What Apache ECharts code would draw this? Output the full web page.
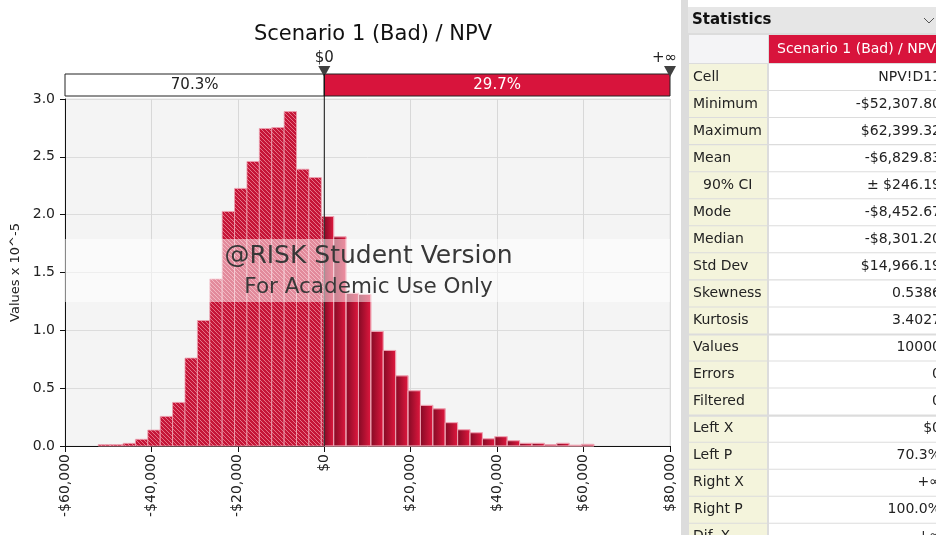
<!DOCTYPE html>
<html lang="en">
<head>
<meta charset="UTF-8">
<title>Scenario 1 (Bad) / NPV</title>
<script src="https://cdn.jsdelivr.net/npm/echarts@6/dist/echarts.min.js"></script>
<style>
  html, body { margin: 0; padding: 0; background: #fff; }
  #main { width: 936px; height: 535px; }
</style>
</head>
<body>
<div id="main"></div>
<script>
// simulation range, histogram has 40 equal bins between min and max
var binMin = -52307.80;
var binMax = 62399.32;
// bar heights (Values x 10^-5)
var density = [
  0.012, 0.012, 0.023, 0.058, 0.138, 0.256, 0.377, 0.760, 1.085, 1.444,
  2.028, 2.227, 2.460, 2.745, 2.753, 2.891, 2.393, 2.321, 1.984, 1.809,
  1.320, 1.310, 0.990, 0.826, 0.607, 0.478, 0.351, 0.322, 0.202, 0.141,
  0.115, 0.063, 0.081, 0.046, 0.023, 0.023, 0.012, 0.023, 0.006, 0.014
];
var xTicks = [-60000, -40000, -20000, 0, 20000, 40000, 60000, 80000];
var yTicks = [0, 0.5, 1.0, 1.5, 2.0, 2.5, 3.0];
// delimiters
var leftX = 0;
var leftPct = '70.3%';
var rightPct = '29.7%';
// statistics panel
var statLabels = ['Cell', 'Minimum', 'Maximum', 'Mean', '90% CI', 'Mode', 'Median', 'Std Dev',
  'Skewness', 'Kurtosis', 'Values', 'Errors', 'Filtered', 'Left X', 'Left P', 'Right X', 'Right P', 'Dif. X'];
var statValues = ['NPV!D11', '-$52,307.80', '$62,399.32', '-$6,829.83', '\u00b1 $246.19', '-$8,452.67',
  '-$8,301.20', '$14,966.19', '0.5386', '3.4027', '10000', '0', '0', '$0', '70.3%', '+\u221e', '100.0%', '+\u221e'];

var FONT = 'DejaVu Sans';
var RED = '#d8143c';

function money(v) {
  return (v < 0 ? '-' : '') + '$' + Math.abs(v).toLocaleString('en-US');
}

// split bins at the left delimiter: hatched left of it, solid right of it
var binW = (binMax - binMin) / density.length;
var leftBins = [], rightBins = [];
for (var i = 0; i < density.length; i++) {
  var s = binMin + i * binW, e = s + binW;
  if (e <= leftX) leftBins.push([s, e, density[i]]);
  else if (s >= leftX) rightBins.push([s, e, density[i]]);
  else {
    leftBins.push([s, leftX, density[i]]);
    rightBins.push([leftX, e, density[i]]);
  }
}

// hatch tile
var tile = document.createElement('canvas');
tile.width = 4; tile.height = 4;
var tc = tile.getContext('2d');
tc.fillStyle = '#c51537';
tc.fillRect(0, 0, 4, 4);
tc.strokeStyle = 'rgba(255,190,200,0.55)';
tc.lineWidth = 1;
tc.beginPath();
tc.moveTo(-1, -1); tc.lineTo(5, 5);
tc.moveTo(-1, 3); tc.lineTo(1, 5);
tc.moveTo(3, -1); tc.lineTo(5, 1);
tc.stroke();

function barItem(fill) {
  return function (params, api) {
    var p0 = api.coord([api.value(0), api.value(2)]);
    var p1 = api.coord([api.value(1), 0]);
    return {
      type: 'rect',
      shape: { x: p0[0], y: p0[1], width: p1[0] - p0[0], height: p1[1] - p0[1] },
      style: { fill: typeof fill === 'function' ? fill() : fill, stroke: '#eda3b2', lineWidth: 0.8 }
    };
  };
}

var chartDom = document.getElementById('main');
var myChart = echarts.init(chartDom);
var option = {
  animation: false,
  textStyle: { fontFamily: FONT },
  title: {
    text: 'Scenario 1 (Bad) / NPV',
    left: 368, top: 19, textAlign: 'center',
    textStyle: { fontSize: 21, fontWeight: 'normal', color: '#111', fontFamily: FONT }
  },
  grid: { left: 65, top: 99, right: 266, bottom: 89, show: true, backgroundColor: '#f4f4f4', borderColor: '#e2e2e2', borderWidth: 1 },
  xAxis: {
    type: 'value', min: xTicks[0], max: xTicks[xTicks.length - 1], interval: 20000,
    axisLine: { onZero: false, lineStyle: { color: '#111' } },
    axisTick: { show: true, length: 6, lineStyle: { color: '#111' } },
    axisLabel: { rotate: 90, margin: 8, fontSize: 14, color: '#222', formatter: money },
    splitLine: { lineStyle: { color: '#d8d8d8' } }
  },
  yAxis: {
    type: 'value', min: yTicks[0], max: yTicks[yTicks.length - 1], interval: 0.5,
    name: 'Values x 10^-5', nameLocation: 'middle', nameRotate: 90, nameGap: 41,
    nameTextStyle: { fontSize: 13, color: '#222' },
    axisLine: { show: true, onZero: false, lineStyle: { color: '#111' } },
    axisTick: { show: true, length: 5, lineStyle: { color: '#111' } },
    axisLabel: { fontSize: 14, color: '#222', margin: 10, formatter: function (v) { return v.toFixed(1); } },
    splitLine: { lineStyle: { color: '#dcdcdc' } }
  },
  series: [
    {
      type: 'custom', name: 'left', data: leftBins, z: 3,
      renderItem: barItem({ image: tile, repeat: 'repeat' })
    },
    {
      type: 'custom', name: 'right', data: rightBins, z: 3,
      renderItem: barItem(function () {
        return new echarts.graphic.LinearGradient(0, 0, 1, 0, [
          { offset: 0, color: '#820a24' },
          { offset: 1, color: '#e2183f' }
        ]);
      })
    }
  ]
};
myChart.setOption(option);

// overlay: delimiter bar, $0 line, watermark, statistics panel
function buildOverlay() {
  var gx0 = myChart.convertToPixel({ xAxisIndex: 0 }, xTicks[0]);
  var gx1 = myChart.convertToPixel({ xAxisIndex: 0 }, xTicks[xTicks.length - 1]);
  var dx = myChart.convertToPixel({ xAxisIndex: 0 }, leftX);
  var yBot = myChart.convertToPixel({ yAxisIndex: 0 }, 0);
  var gfx = [];

  // delimiter bar
  gfx.push({ type: 'rect', shape: { x: gx0, y: 74, width: dx - gx0, height: 22 }, style: { fill: '#fff', stroke: '#222', lineWidth: 1 }, z: 50 });
  gfx.push({ type: 'rect', shape: { x: dx, y: 74, width: gx1 - dx, height: 22 }, style: { fill: RED, stroke: '#222', lineWidth: 1 }, z: 50 });
  gfx.push({ type: 'text', x: (gx0 + dx) / 2, y: 85, style: { text: leftPct, fill: '#222', font: '15px ' + FONT, textAlign: 'center', textVerticalAlign: 'middle' }, z: 51 });
  gfx.push({ type: 'text', x: (dx + gx1) / 2, y: 85, style: { text: rightPct, fill: '#fff', font: '15px ' + FONT, textAlign: 'center', textVerticalAlign: 'middle' }, z: 51 });
  // markers
  [[dx, '$0', 'center'], [gx1, '+\u221e', 'right']].forEach(function (m) {
    gfx.push({ type: 'polygon', shape: { points: [[m[0] - 6, 66], [m[0] + 6, 66], [m[0], 77]] }, style: { fill: '#404040' }, z: 52 });
    gfx.push({ type: 'text', x: m[2] === 'right' ? m[0] + 7 : m[0], y: 58, style: { text: m[1], fill: '#222', font: '15px ' + FONT, textAlign: m[2], textVerticalAlign: 'middle' }, z: 52 });
  });
  // $0 line
  gfx.push({ type: 'line', shape: { x1: dx, y1: 74, x2: dx, y2: yBot }, style: { stroke: '#111', lineWidth: 1 }, z: 60 });

  // watermark
  gfx.push({ type: 'rect', shape: { x: gx0, y: 239, width: gx1 - gx0, height: 63 }, style: { fill: 'rgba(255,255,255,0.5)' }, z: 70 });
  gfx.push({ type: 'text', x: (gx0 + gx1) / 2 + 1, y: 256, style: { text: '@RISK Student Version', fill: '#383838', font: '25px ' + FONT, textAlign: 'center', textVerticalAlign: 'middle' }, z: 71 });
  gfx.push({ type: 'text', x: (gx0 + gx1) / 2 + 1, y: 287, style: { text: 'For Academic Use Only', fill: '#383838', font: '21.5px ' + FONT, textAlign: 'center', textVerticalAlign: 'middle' }, z: 71 });

  // statistics panel
  gfx.push({ type: 'rect', shape: { x: 681, y: 0, width: 255, height: 535 }, style: { fill: '#dcdcdc' }, z: 80 });
  gfx.push({ type: 'rect', shape: { x: 688, y: 0, width: 248, height: 7 }, style: { fill: '#fff' }, z: 80 });
  gfx.push({ type: 'rect', shape: { x: 688, y: 7, width: 248, height: 26 }, style: { fill: '#e6e6e6' }, z: 81 });
  gfx.push({ type: 'text', x: 692, y: 20, style: { text: 'Statistics', fill: '#111', font: 'bold 15px ' + FONT, textVerticalAlign: 'middle' }, z: 82 });
  gfx.push({ type: 'polyline', shape: { points: [[924, 18], [929, 23], [934, 18]] }, style: { stroke: '#555', lineWidth: 1, fill: null }, z: 82 });
  gfx.push({ type: 'rect', shape: { x: 689, y: 35, width: 79, height: 28 }, style: { fill: '#f4f4f6' }, z: 81 });
  gfx.push({ type: 'rect', shape: { x: 769, y: 35, width: 167, height: 28 }, style: { fill: RED }, z: 81 });
  gfx.push({ type: 'text', x: 777, y: 49, style: { text: 'Scenario 1 (Bad) / NPV', fill: '#fff', font: '14px ' + FONT, textVerticalAlign: 'middle' }, z: 82 });

  for (var r = 0; r < statLabels.length; r++) {
    var rowTop = 64 + 27.05 * r;
    var gap = (r === 10 || r === 13) ? 2 : 1;
    gfx.push({ type: 'rect', shape: { x: 689, y: rowTop + gap - 1, width: 78, height: 27 - gap }, style: { fill: '#f4f4dc' }, z: 81 });
    gfx.push({ type: 'rect', shape: { x: 769, y: rowTop + gap - 1, width: 167, height: 27 - gap }, style: { fill: '#fff' }, z: 81 });
    gfx.push({ type: 'text', x: statLabels[r] === '90% CI' ? 703 : 693, y: rowTop + 13,
      style: { text: statLabels[r], fill: '#222', font: '14px ' + FONT, textVerticalAlign: 'middle' }, z: 82 });
    gfx.push({ type: 'text', x: 941, y: rowTop + 13,
      style: { text: statValues[r], fill: '#222', font: '14px ' + FONT, textAlign: 'right', textVerticalAlign: 'middle' }, z: 82 });
  }
  return gfx;
}

myChart.setOption({ graphic: { elements: buildOverlay() } });
</script>
</body>
</html>
